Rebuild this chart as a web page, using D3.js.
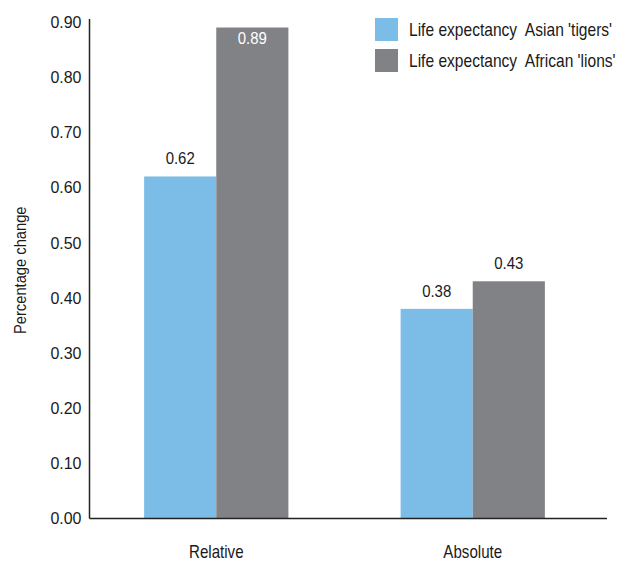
<!DOCTYPE html>
<html>
<head>
<meta charset="utf-8">
<script src="https://cdn.jsdelivr.net/npm/d3@7"></script>
<style>
  html, body { margin: 0; padding: 0; background: #fff; }
  svg { display: block; }
  text { font-family: "Liberation Sans", Arial, sans-serif; fill: #1a1a1a; }
</style>
</head>
<body>
<svg id="chart" width="629" height="561"></svg>
<script>
// Change in life expectancy, relative vs absolute
const categories = ["Relative", "Absolute"];
const seriesNames = ["Life expectancy  Asian 'tigers'", "Life expectancy  African 'lions'"];
const asianTigers = [0.62, 0.38];
const africanLions = [0.89, 0.43];
const yTicks = [0, 0.1, 0.2, 0.3, 0.4, 0.5, 0.6, 0.7, 0.8, 0.9];
const colors = ["#7bbde7", "#818286"];

// condensed look: squeeze glyphs horizontally
const squeeze = 0.88;

const svg = d3.select("#chart");
const axisX0 = 89.5, axisX1 = 607;

const y = d3.scaleLinear().domain([0, 0.9]).range([518.5, 22]);

const x0 = d3.scaleBand()
  .domain(categories)
  .range([87.7, 601.3])
  .paddingInner(0.4375)
  .paddingOuter(0.22);

const x1 = d3.scaleBand()
  .domain([0, 1])
  .range([0, x0.bandwidth()]);

const rows = categories.map((c, i) => ({ cat: c, vals: [asianTigers[i], africanLions[i]] }));

// bars
const groups = svg.append("g").selectAll("g")
  .data(rows).join("g")
  .attr("transform", d => `translate(${x0(d.cat)},0)`);

groups.selectAll("rect")
  .data(d => d.vals.map((v, k) => ({ v, k })))
  .join("rect")
  .attr("x", d => x1(d.k))
  .attr("width", x1.bandwidth())
  .attr("y", d => y(d.v))
  .attr("height", d => y(0) - y(d.v))
  .attr("fill", d => colors[d.k]);

// value labels: above the bar, or inside it in white when near the top
groups.selectAll("text.val")
  .data(d => d.vals.map((v, k) => ({ v, k })))
  .join("text")
  .attr("class", "val")
  .attr("transform", d => {
    const tx = x1(d.k) + x1.bandwidth() / 2;
    const ty = d.v > 0.8 ? y(d.v) + 16 : y(d.v) - 12;
    return `translate(${tx},${ty}) scale(${squeeze},1)`;
  })
  .attr("text-anchor", "middle")
  .style("font-size", "17px")
  .style("fill", d => d.v > 0.8 ? "#ffffff" : "#1a1a1a")
  .text(d => d3.format(".2f")(d.v));

// y axis
const yAxis = d3.axisLeft(y)
  .tickValues(yTicks)
  .tickFormat(d3.format(".2f"))
  .tickSize(0)
  .tickPadding(8);

const gy = svg.append("g")
  .attr("transform", `translate(${axisX0},0)`)
  .call(yAxis);
gy.select(".domain").remove();
gy.selectAll("text")
  .attr("x", null)
  .attr("transform", `translate(-8,0) scale(0.94,1)`)
  .style("font-size", "17px").style("fill", "#1a1a1a").attr("font-family", null);

svg.append("line")
  .attr("x1", axisX0).attr("x2", axisX0)
  .attr("y1", y(0.9) - 3).attr("y2", y(0))
  .attr("stroke", "#222").attr("stroke-width", 1.5);

// x axis
svg.append("line")
  .attr("x1", axisX0).attr("x2", axisX1)
  .attr("y1", y(0)).attr("y2", y(0))
  .attr("stroke", "#222").attr("stroke-width", 1.5);

const xAxis = d3.axisBottom(x0).tickSize(0).tickPadding(0);
const gx = svg.append("g")
  .attr("transform", `translate(0,${y(0)})`)
  .call(xAxis);
gx.select(".domain").remove();
gx.selectAll("text")
  .attr("dy", null)
  .attr("y", null)
  .attr("transform", `translate(0,39) scale(0.84,1)`)
  .style("font-size", "18px")
  .style("fill", "#1a1a1a")
  .attr("font-family", null);

// y axis title
svg.append("text")
  .attr("transform", `translate(26,${(y(0) + y(0.9)) / 2}) rotate(-90) scale(0.92,1)`)
  .attr("text-anchor", "middle")
  .style("font-size", "16px")
  .text("Percentage change");

// legend
const legend = svg.append("g").attr("transform", "translate(375,18)");
const items = legend.selectAll("g").data(seriesNames).join("g")
  .attr("transform", (d, i) => `translate(0,${i * 31})`);
items.append("rect")
  .attr("width", 23).attr("height", 23)
  .attr("fill", (d, i) => colors[i]);
items.append("text")
  .attr("transform", `translate(34,17.5) scale(0.865,1)`)
  .style("font-size", "18px")
  .style("white-space", "pre")
  .attr("xml:space", "preserve")
  .text(d => d);
</script>
</body>
</html>
